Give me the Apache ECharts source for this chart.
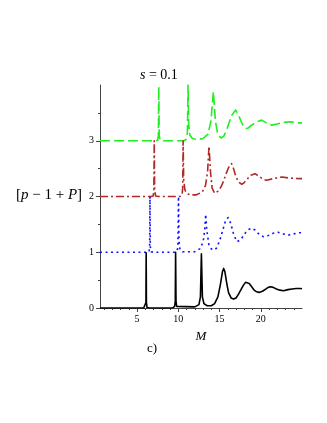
<!DOCTYPE html>
<html>
<head>
<meta charset="utf-8">
<script src="https://cdn.jsdelivr.net/npm/echarts@6/dist/echarts.min.js"></script>
<style>
  html, body { margin: 0; padding: 0; background: #fff; }
  #chart { width: 327px; height: 423px; }
</style>
</head>
<body>
<div id="chart"></div>
<script>
// tick values
const xMajorTicks = [5, 10, 15, 20]
const xMinorTicks = [1, 2, 3, 4, 6, 7, 8, 9, 11, 12, 13, 14, 16, 17, 18, 19, 21, 22, 23, 24]
const yMajorTicks = [0, 1, 2, 3]
const yMinorTicks = [0.5, 1.5, 2.5, 3.5]

// curves, [M, value] (already shifted by 0, 1, 2, 3)
const curveBlack = [
  [0.5, 0], [5.8, 0], [6.0, 0.01], [6.07, 0.1], [6.1, 0.99], [6.13, 0.1], [6.2, 0.01], [6.5, 0],
  [9.3, 0], [9.55, 0.03], [9.63, 0.12], [9.67, 1.0], [9.72, 0.12], [9.8, 0.03], [10.0, 0.01],
  [12.0, 0.02], [12.5, 0.06], [12.68, 0.2], [12.8, 0.97], [12.92, 0.2], [13.1, 0.08], [13.5, 0.04],
  [14.0, 0.04], [14.4, 0.08], [14.8, 0.2], [15.1, 0.42], [15.35, 0.65], [15.5, 0.71], [15.65, 0.65],
  [15.9, 0.42], [16.1, 0.27], [16.4, 0.18], [16.7, 0.16], [17.0, 0.18], [17.3, 0.25], [17.6, 0.33],
  [17.9, 0.41], [18.15, 0.46], [18.35, 0.47], [18.6, 0.44], [18.9, 0.38], [19.2, 0.32], [19.5, 0.29],
  [19.8, 0.28], [20.2, 0.3], [20.6, 0.34], [20.9, 0.37], [21.2, 0.38], [21.5, 0.37], [21.9, 0.34],
  [22.3, 0.32], [22.75, 0.31], [23.3, 0.33], [23.8, 0.34], [24.3, 0.35], [24.8, 0.35], [25, 0.345]
]
const curveBlue = [
  [0.5, 1], [6.2, 1], [6.45, 1.01], [6.52, 1.1], [6.56, 2.0], [6.6, 1.1], [6.7, 1.01], [7, 1],
  [9.6, 1], [9.85, 1.02], [9.95, 1.1], [10.02, 2.0], [10.08, 1.2], [10.2, 1.05], [10.5, 1.01],
  [12.0, 1.01], [12.6, 1.06], [13.0, 1.18], [13.2, 1.4], [13.32, 1.68], [13.45, 1.4], [13.7, 1.14],
  [14.0, 1.06], [14.3, 1.04], [14.6, 1.07], [15.0, 1.2], [15.4, 1.4], [15.75, 1.58], [16.05, 1.62],
  [16.35, 1.52], [16.75, 1.3], [17.15, 1.19], [17.6, 1.23], [17.9, 1.3], [18.2, 1.36], [18.55, 1.41],
  [18.9, 1.43], [19.3, 1.4], [19.6, 1.35], [20.0, 1.3], [20.3, 1.28], [20.9, 1.3], [21.5, 1.34],
  [22.07, 1.36], [22.7, 1.33], [23.4, 1.31], [24.0, 1.33], [24.7, 1.35], [25, 1.35]
]
const curveBrown = [
  [0.5, 2], [6.7, 2], [6.95, 2.01], [7.03, 2.1], [7.08, 3.0], [7.13, 2.1], [7.25, 2.01], [7.6, 2],
  [10.2, 2], [10.45, 2.03], [10.53, 2.15], [10.58, 3.0], [10.65, 2.3], [10.8, 2.12], [11.0, 2.06],
  [11.4, 2.03], [12.2, 2.03], [12.9, 2.08], [13.3, 2.2], [13.55, 2.45], [13.72, 2.9], [13.9, 2.45],
  [14.1, 2.15], [14.4, 2.06], [14.9, 2.1], [15.2, 2.18], [15.5, 2.28], [15.8, 2.41], [16.1, 2.52],
  [16.45, 2.59], [16.7, 2.5], [16.95, 2.37], [17.3, 2.26], [17.7, 2.22], [18.0, 2.25], [18.4, 2.32],
  [18.8, 2.38], [19.3, 2.41], [19.9, 2.35], [20.3, 2.31], [20.7, 2.29], [21.5, 2.32], [22.56, 2.35],
  [23.5, 2.33], [24.8, 2.32], [25, 2.32]
]
const curveGreen = [
  [0.5, 3], [7.2, 3], [7.5, 3.01], [7.58, 3.1], [7.63, 3.97], [7.68, 3.1], [7.8, 3.01], [8.2, 3],
  [10.7, 3], [10.98, 3.03], [11.1, 3.15], [11.18, 4.0], [11.25, 3.3], [11.4, 3.1], [11.7, 3.04],
  [12.3, 3.02], [13.0, 3.04], [13.6, 3.12], [13.95, 3.35], [14.25, 3.88], [14.5, 3.35], [14.8, 3.1],
  [15.2, 3.05], [15.5, 3.08], [15.8, 3.17], [16.1, 3.3], [16.5, 3.46], [16.95, 3.55], [17.25, 3.48],
  [17.6, 3.35], [17.9, 3.26], [18.2, 3.22], [18.5, 3.23], [18.8, 3.27], [19.5, 3.34], [20.1, 3.37],
  [20.7, 3.32], [21.3, 3.28], [22.0, 3.3], [22.8, 3.33], [23.6, 3.34], [24.4, 3.32], [25, 3.32]
]

const serif = '"Liberation Serif", "DejaVu Serif", serif'
const axisColor = '#444'

const chart = echarts.init(document.getElementById('chart'))

const makeLine = (data, color, type) => ({
  type: 'line',
  data,
  xAxisIndex: 0,
  yAxisIndex: 0,
  showSymbol: false,
  smooth: false,
  lineStyle: { color, width: 1.6, type, join: 'round' },
  z: 3
})

const option = {
  animation: false,
  backgroundColor: '#fff',
  grid: { left: 100, right: 25, top: 85, bottom: 115 },
  xAxis: [
    {
      type: 'value', min: 0.5, max: 25, position: 'bottom',
      axisLine: { lineStyle: { color: axisColor, width: 1 } },
      axisTick: { show: true, customValues: xMajorTicks, length: 4, lineStyle: { color: axisColor } },
      axisLabel: { customValues: xMajorTicks, color: '#000', fontFamily: serif, fontSize: 10, margin: 6 },
      splitLine: { show: false },
      name: 'M', nameLocation: 'middle', nameGap: 22,
      nameTextStyle: { fontFamily: serif, fontStyle: 'italic', fontSize: 13, color: '#000' }
    },
    {
      type: 'value', min: 0.5, max: 25, position: 'bottom',
      axisLine: { show: false },
      axisTick: { show: true, customValues: xMinorTicks, length: 2, lineStyle: { color: axisColor } },
      axisLabel: { show: false },
      splitLine: { show: false }
    }
  ],
  yAxis: [
    {
      type: 'value', min: 0, max: 4, position: 'left',
      axisLine: { show: true, lineStyle: { color: axisColor, width: 1 } },
      axisTick: { show: true, customValues: yMajorTicks, length: 4, lineStyle: { color: axisColor } },
      axisLabel: { customValues: yMajorTicks, color: '#000', fontFamily: serif, fontSize: 10, margin: 6 },
      splitLine: { show: false }
    },
    {
      type: 'value', min: 0, max: 4, position: 'left',
      axisLine: { show: false },
      axisTick: { show: true, customValues: yMinorTicks, length: 2, lineStyle: { color: axisColor } },
      axisLabel: { show: false },
      splitLine: { show: false }
    }
  ],
  series: [
    makeLine(curveGreen, '#1fee1f', [10, 4]),
    makeLine(curveBrown, '#b02a2a', [8, 3, 2, 3]),
    makeLine(curveBlue, '#1010ff', [2, 3.5]),
    makeLine(curveBlack, '#000', 'solid')
  ],
  graphic: [
    {
      type: 'text', left: 140, top: 68,
      style: {
        text: '{i|s} = 0.1',
        rich: { i: { fontStyle: 'italic', fontFamily: serif, fontSize: 14 } },
        font: '14px ' + serif, fill: '#000'
      }
    },
    {
      type: 'text', left: 16, top: 188,
      style: {
        text: '[{i|p} − 1 + {i|P}]',
        rich: { i: { fontStyle: 'italic', fontFamily: serif, fontSize: 15 } },
        font: '15px ' + serif, fill: '#000'
      }
    },
    {
      type: 'text', left: 147, top: 342,
      style: { text: 'c)', font: '13px ' + serif, fill: '#000' }
    }
  ]
}
chart.setOption(option)
</script>
</body>
</html>
